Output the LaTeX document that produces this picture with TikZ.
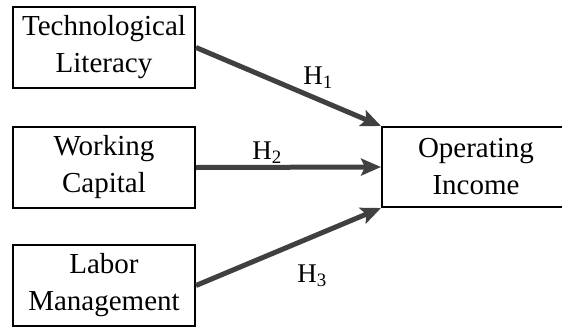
\documentclass[tikz,border=0pt]{standalone}
\usepackage{fontspec}
\setmainfont{Liberation Serif}
\usetikzlibrary{arrows.meta}
\tikzset{>={Stealth[length=20pt,width=17pt,inset=4pt]}}
\tikzset{
  box/.style={draw,line width=2pt,minimum width=182pt,minimum height=81pt,
    align=center,inner sep=0pt,font=\fontsize{29}{37}\selectfont},
  link/.style={->,line width=5pt,draw={rgb,255:red,64;green,64;blue,64}},
  hyp/.style={font=\fontsize{27}{30}\selectfont}
}

\begin{document}
\begin{tikzpicture}[x=1pt,y=-1pt]
    \useasboundingbox (0,0) rectangle (562,327);
    \node[box] (tech) at (104,47.5) {Technological\\Literacy};
    \node[box] (work) at (104,167.5) {Working\\Capital};
    \node[box] (labor) at (104,285.5) {Labor\\Management};
    \node[box,minimum width=188pt,minimum height=80pt,text width=182pt] (op) at (476,167) {Operating\\Income\hspace*{0pt}};
    \draw[link] (tech.east) -- (op.north west);
    \draw[link] (work.east) -- (op.west);
    \draw[link] (labor.east) -- (op.south west);
    \node[hyp] (h1) at (318,78) {H\textsubscript{1}};
    \node[hyp] (h2) at (267,153) {H\textsubscript{2}};
    \node[hyp] (h3) at (312,276) {H\textsubscript{3}};
  \end{tikzpicture}
\end{document}
